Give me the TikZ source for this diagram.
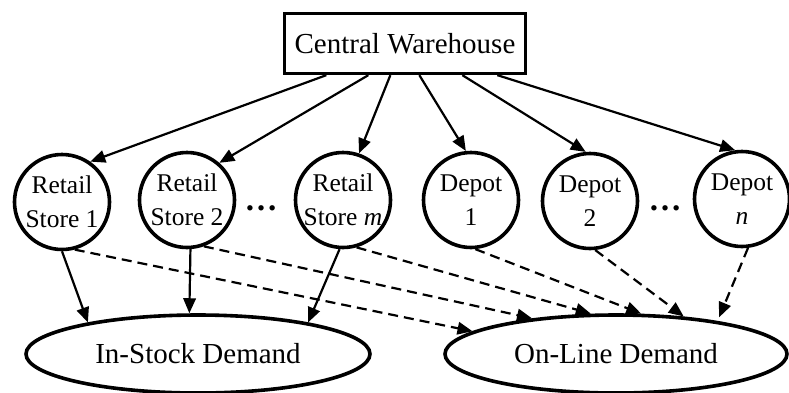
\documentclass[tikz,border=0pt]{standalone}
\usepackage{fontspec}
\setmainfont{Liberation Serif}
\usetikzlibrary{arrows.meta,shapes.geometric}
\begin{document}
\begin{tikzpicture}[x=1pt,y=-1pt,
  boxnode/.style={draw,line width=3.3pt,minimum width=241pt,minimum height=60pt,inner sep=0pt,font=\fontsize{29}{34}\selectfont},
  sitenode/.style={draw,circle,line width=3.6pt,minimum size=95pt,inner sep=0pt,align=center,font=\fontsize{25.5}{34}\selectfont},
  demandnode/.style={draw,ellipse,line width=3.6pt,minimum height=78pt,inner sep=0pt,font=\fontsize{29}{34}\selectfont},
  supply/.style={line width=2.2pt,-{Triangle[length=15pt,width=12.5pt]}},
  online/.style={supply,dash pattern=on 10pt off 6pt},
  dotsnode/.style={inner sep=0pt,font=\fontsize{33}{33}\selectfont\bfseries}
]
\useasboundingbox (0,0) rectangle (789,392);

\node[boxnode] (cw) at (405,43.5) {Central Warehouse};

\node[sitenode] (s1) at (62,202) {Retail\\Store 1};
\node[sitenode] (s2) at (187,200) {Retail\\Store 2};
\node[sitenode] (sm) at (343,200) {Retail\\Store \textit{m}};
\node[sitenode] (d1) at (471,200) {Depot\\1};
\node[sitenode] (d2) at (590,201) {Depot\\2};
\node[sitenode] (dn) at (742,199) {Depot\\\textit{n}};

\node[dotsnode] (dots1) at (261,208) {…};
\node[dotsnode] (dots2) at (665,208) {…};

\node[demandnode,minimum width=344pt] (is) at (198,354) {In-Stock Demand};
\node[demandnode,minimum width=342pt] (ol) at (616,354) {On-Line Demand};

% warehouse to sites
\draw[supply] ([xshift=43.5pt]cw.south west) -- (s1.55);
\draw[supply] ([xshift=85.5pt]cw.south west) -- (s2.49);
\draw[supply] ([xshift=107.5pt]cw.south west) -- (sm.71);
\draw[supply] ([xshift=136.5pt]cw.south west) -- (d1.96);
\draw[supply] ([xshift=179.5pt]cw.south west) -- (d2.95);
\draw[supply] ([xshift=214.5pt]cw.south west) -- (dn.98);

% stores to in-stock demand
\draw[supply] (s1.270) -- (is.164);
\draw[supply] (s2.274) -- (is.102);
\draw[supply] (sm.266) -- (is.16);

% all sites to on-line demand
\draw[online] (s1.285) -- (ol.171);
\draw[online] (s2.290) -- (ol.157);
\draw[online] (sm.286) -- (ol.122);
\draw[online] (d1.275) -- (ol.58);
\draw[online] (d2.276) -- (ol.29);
\draw[online,shorten >=4pt] (dn.277) -- (ol.18);
\end{tikzpicture}
\end{document}
